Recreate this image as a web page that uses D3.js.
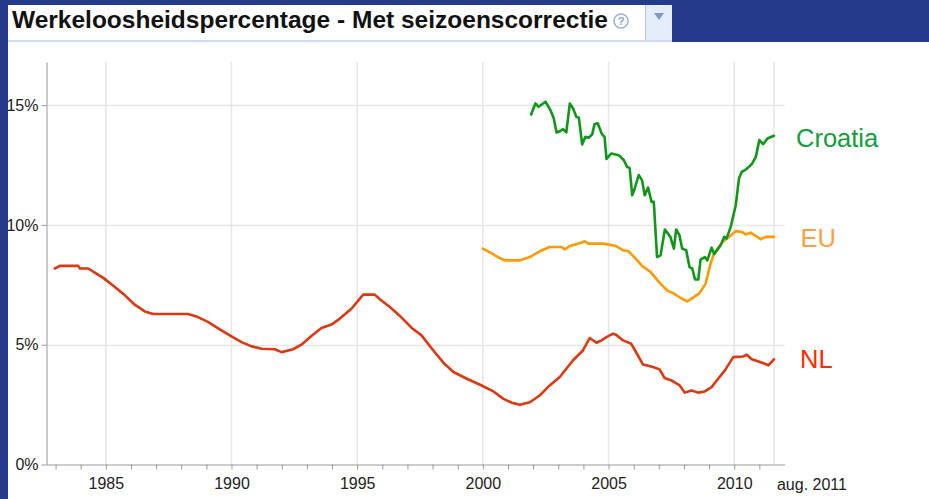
<!DOCTYPE html>
<html>
<head>
<meta charset="utf-8">
<script src="https://cdn.jsdelivr.net/npm/d3@7"></script>
<style>
  html, body { margin: 0; padding: 0; background: #ffffff; }
  svg { display: block; font-family: Arial, "Liberation Sans", sans-serif; }
</style>
</head>
<body>
<svg id="chart" width="929" height="499"></svg>
<script>
// ---------- data ----------
const titleText = "Werkeloosheidspercentage - Met seizoenscorrectie";
const seriesNames = ["Croatia", "EU", "NL"];
const yTickValues = [0, 5, 10, 15];
const yTickLabels = ["0%", "5%", "10%", "15%"];
const xLabelYears = [1985, 1990, 1995, 2000, 2005, 2010];
const xMinorYears = [1983,1984,1985,1986,1987,1988,1989,1990,1991,1992,1993,1994,1995,1996,1997,1998,1999,2000,2001,2002,2003,2004,2005,2006,2007,2008,2009,2010,2011];
const endLabel = "aug. 2011";
const endYear = 2011.58;

const nlYears = [1982.97,1983.17,1983.9,1983.97,1984.3,1984.56,1984.9,1985.36,1985.76,1986.15,1986.55,1986.88,1988.27,1988.6,1989.06,1989.6,1990.0,1990.4,1990.8,1991.2,1991.72,1991.99,1992.45,1992.78,1993.18,1993.58,1993.98,1994.31,1994.78,1995.24,1995.7,1995.9,1996.3,1996.7,1997.17,1997.56,1998.03,1998.43,1998.83,1999.36,1999.89,2000.42,2000.82,2001.15,2001.47,2001.87,2002.26,2002.66,2003.06,2003.59,2003.98,2004.25,2004.52,2004.72,2004.92,2005.18,2005.3,2005.58,2005.9,2006.17,2006.37,2006.77,2007.03,2007.23,2007.5,2007.83,2008.03,2008.3,2008.56,2008.83,2009.1,2009.36,2009.63,2009.96,2010.36,2010.5,2010.7,2011.03,2011.36,2011.58];
const nlValues = [8.18,8.29,8.29,8.18,8.18,8.01,7.79,7.41,7.06,6.67,6.39,6.28,6.28,6.18,5.95,5.6,5.35,5.11,4.93,4.83,4.81,4.69,4.81,5.0,5.36,5.7,5.84,6.09,6.51,7.09,7.09,6.9,6.57,6.2,5.7,5.39,4.76,4.25,3.86,3.58,3.33,3.05,2.74,2.58,2.49,2.6,2.88,3.3,3.65,4.35,4.76,5.28,5.08,5.18,5.32,5.46,5.42,5.18,5.04,4.55,4.17,4.07,3.97,3.61,3.51,3.3,3.0,3.09,3.0,3.05,3.23,3.58,3.93,4.48,4.51,4.58,4.39,4.28,4.14,4.39];

const euYears = [2000.0,2000.28,2000.6,2000.87,2001.47,2001.87,2002.26,2002.66,2003.13,2003.26,2003.46,2003.92,2004.05,2004.19,2004.78,2005.3,2005.58,2005.8,2006.07,2006.33,2006.67,2007.0,2007.33,2007.6,2007.87,2008.13,2008.27,2008.6,2008.86,2009.06,2009.2,2009.53,2009.8,2010.06,2010.32,2010.46,2010.65,2011.05,2011.25,2011.58];
const euValues = [9.01,8.85,8.66,8.52,8.52,8.66,8.9,9.08,9.08,8.98,9.12,9.26,9.32,9.22,9.22,9.12,8.94,8.9,8.6,8.29,8.04,7.62,7.27,7.13,6.95,6.81,6.9,7.13,7.55,8.39,8.8,9.29,9.5,9.74,9.7,9.6,9.68,9.4,9.5,9.5];

const hrYears = [2001.92,2002.09,2002.22,2002.49,2002.69,2002.82,2002.93,2003.09,2003.19,2003.32,2003.46,2003.59,2003.72,2003.82,2003.95,2004.08,2004.21,2004.35,2004.44,2004.57,2004.74,2004.84,2004.92,2005.1,2005.41,2005.61,2005.74,2005.84,2005.94,2006.04,2006.2,2006.33,2006.44,2006.57,2006.71,2006.8,2006.93,2007.07,2007.24,2007.46,2007.6,2007.69,2007.82,2007.93,2008.09,2008.22,2008.33,2008.44,2008.57,2008.66,2008.83,2008.93,2009.1,2009.2,2009.46,2009.6,2009.69,2009.86,2010.06,2010.19,2010.3,2010.43,2010.56,2010.7,2010.86,2011.0,2011.15,2011.32,2011.58];
const hrValues = [14.61,15.07,14.93,15.14,14.79,14.45,13.86,13.92,14.0,13.86,15.07,14.86,14.51,14.47,13.36,13.68,13.64,13.78,14.2,14.24,13.78,13.68,12.75,12.98,12.91,12.7,12.42,12.38,11.24,11.52,12.08,11.87,11.24,11.56,10.96,10.96,8.66,8.73,9.81,9.5,9.01,9.81,9.57,9.01,8.94,8.24,8.18,7.72,7.72,8.55,8.66,8.52,9.05,8.78,9.15,9.5,9.43,9.92,10.82,11.94,12.22,12.29,12.4,12.54,12.84,13.54,13.37,13.61,13.72];

// ---------- layout ----------
const svg = d3.select("#chart");
const x = d3.scaleLinear().domain([1982.64, 2012.0]).range([46.5, 784.5]);
const y = d3.scaleLinear().domain([0, 16.8]).range([464.5, 62]);

// frame background
svg.append("rect").attr("x", 0).attr("y", 0).attr("width", 929).attr("height", 499).attr("fill", "#ffffff");
svg.append("rect").attr("x", 0).attr("y", 0).attr("width", 929).attr("height", 5).attr("fill", "#243b8c");
svg.append("rect").attr("x", 672).attr("y", 0).attr("width", 257).attr("height", 42).attr("fill", "#243b8c");
svg.append("rect").attr("x", 8).attr("y", 40).attr("width", 664).attr("height", 2).attr("fill", "#cdd9ef");

// dropdown button
svg.append("rect").attr("x", 645).attr("y", 5).attr("width", 27).attr("height", 35).attr("fill", "#e4ecf8");
svg.append("rect").attr("x", 645).attr("y", 5).attr("width", 1).attr("height", 35).attr("fill", "#b8c8e6");
svg.append("path").attr("d", "M654,13 L664,13 L659,20 Z").attr("fill", "#7d99cf");

// title
svg.append("text").attr("x", 12).attr("y", 28)
  .attr("font-size", 24).attr("font-weight", "bold").attr("fill", "#111")
  .attr("textLength", 596).attr("lengthAdjust", "spacingAndGlyphs")
  .text(titleText);
svg.append("circle").attr("cx", 621).attr("cy", 21).attr("r", 7)
  .attr("fill", "#ffffff").attr("stroke", "#9db2d8").attr("stroke-width", 1.5);
svg.append("text").attr("x", 621).attr("y", 25).attr("text-anchor", "middle")
  .attr("font-size", 11).attr("font-weight", "bold").attr("fill", "#8aa3cf").text("?");

// gridlines
const grid = svg.append("g");
grid.selectAll("line.h").data(yTickValues.filter(v => v > 0)).join("line")
  .attr("x1", x.range()[0]).attr("x2", x.range()[1])
  .attr("y1", d => Math.round(y(d)) + 0.5).attr("y2", d => Math.round(y(d)) + 0.5)
  .attr("stroke", "#e6e6e6").attr("stroke-width", 1.5);
grid.selectAll("line.v").data(xLabelYears.concat([endYear])).join("line")
  .attr("x1", d => x(d)).attr("x2", d => x(d))
  .attr("y1", y.range()[1]).attr("y2", y.range()[0])
  .attr("stroke", "#e6e6e6").attr("stroke-width", 1.5);

// axes
const yAxis = d3.axisLeft(y).tickValues(yTickValues)
  .tickFormat((d, i) => yTickLabels[i]).tickSize(5).tickSizeOuter(0).tickPadding(3);
const yg = svg.append("g").attr("transform", "translate(46.5,0)").call(yAxis);
yg.selectAll("text").attr("font-size", 16).attr("fill", "#222").attr("font-family", "Arial, 'Liberation Sans', sans-serif");

const xAxis = d3.axisBottom(x).tickValues(xMinorYears)
  .tickFormat(d => xLabelYears.includes(d) ? String(d) : "")
  .tickSize(5).tickSizeOuter(0).tickPadding(8);
const xg = svg.append("g").attr("transform", "translate(0,464.5)").call(xAxis);
xg.selectAll("text").attr("font-size", 16).attr("fill", "#222").attr("font-family", "Arial, 'Liberation Sans', sans-serif");

[yg, xg].forEach(g => {
  g.select(".domain").attr("stroke", "#999");
  g.selectAll(".tick line").attr("stroke", "#999");
});

svg.append("text").attr("x", x(endYear) + 3).attr("y", 489.5)
  .attr("font-size", 16).attr("fill", "#222").text(endLabel);

// lines
const line = d3.line().x(d => x(d[0])).y(d => y(d[1]));
const series = [
  { years: nlYears, values: nlValues, color: "#dc3912" },
  { years: euYears, values: euValues, color: "#ff9900" },
  { years: hrYears, values: hrValues, color: "#109618" }
];
svg.append("g").selectAll("path").data(series).join("path")
  .attr("d", s => line(s.years.map((t, i) => [t, s.values[i]])))
  .attr("fill", "none").attr("stroke", s => s.color)
  .attr("stroke-width", 2.6).attr("stroke-linejoin", "round").attr("stroke-linecap", "round");

// series labels
const labelInfo = [
  { name: seriesNames[0], x: 796, y: 147, color: "#109e3c" },
  { name: seriesNames[1], x: 800.5, y: 247, color: "#f6a24a" },
  { name: seriesNames[2], x: 800, y: 368, color: "#ff2a00" }
];
svg.append("g").selectAll("text").data(labelInfo).join("text")
  .attr("x", d => d.x).attr("y", d => d.y)
  .attr("font-size", 25.5).attr("fill", d => d.color).text(d => d.name);

// left frame border drawn on top (clips the first label character like the original)
svg.append("rect").attr("x", 0).attr("y", 0).attr("width", 8).attr("height", 499).attr("fill", "#243b8c");
</script>
</body>
</html>
